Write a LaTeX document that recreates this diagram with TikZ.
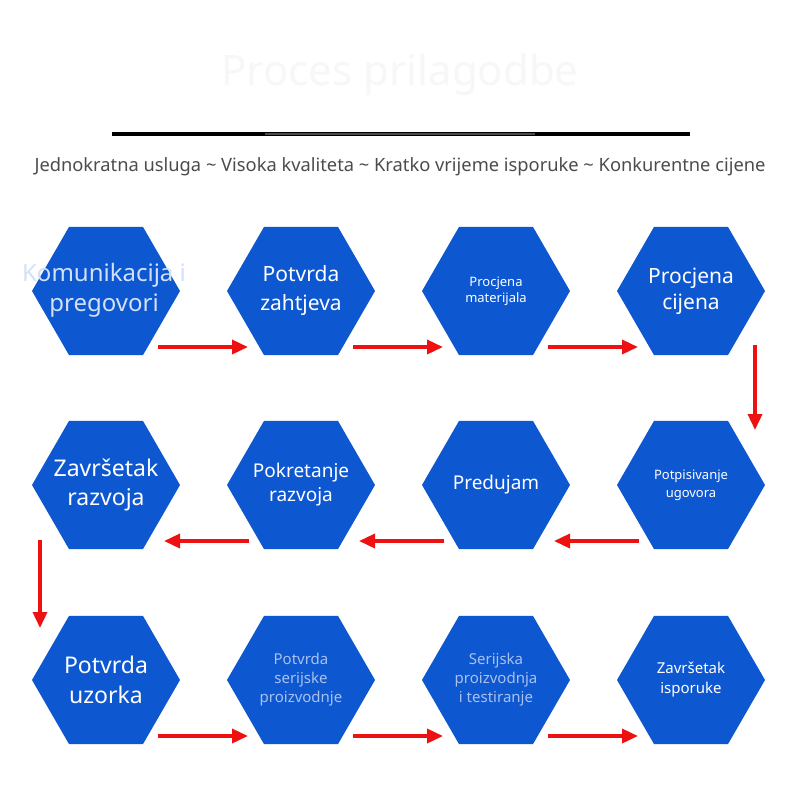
\documentclass[tikz,border=0pt]{standalone}
\usepackage{fontspec}
\setmainfont{Noto Sans}
\usetikzlibrary{shapes.geometric,arrows.meta,calc}
\definecolor{hexblue}{HTML}{0D57D0}
\definecolor{arr}{HTML}{EE1111}
\definecolor{lt}{HTML}{A9C1EE}
\begin{document}
\begin{tikzpicture}[x=1pt,y=-1pt,
  hexa/.style={regular polygon,regular polygon sides=6,minimum size=148pt,inner sep=0pt,fill=hexblue,draw=none},
  lbl/.style={text=white,align=center,font=\fontsize{20}{24}\selectfont},
  slbl/.style={text=white,align=center,font=\fontsize{12}{15}\selectfont},
  flow/.style={draw=arr,line width=3.5pt,-{Triangle[length=16pt,width=14pt]}}]
\useasboundingbox[fill=white] (0,0) rectangle (800,800);
\node[text=black!3,font=\fontsize{42}{46}\selectfont] (title) at (400,75) {Proces prilagodbe};
\draw[line width=4pt] (112,134) coordinate (la) -- (690,134) coordinate (lb);
\draw[line width=2pt,black!70] (265,134) -- (535,134);
\node[text=black!70,font=\fontsize{18.3}{22}\selectfont] (sub) at (400,167) {Jednokratna usluga \~{} Visoka kvaliteta \~{} Kratko vrijeme isporuke \~{} Konkurentne cijene};
\foreach \i/\x/\y in {1/106/291,2/301/291,3/496/291,4/691/291,8/106/485,7/301/485,6/496/485,5/691/485,9/106/680,10/301/680,11/496/680,12/691/680}
  \node[hexa] (n\i) at (\x,\y) {};
\node[text=lt!50,align=center,font=\fontsize{24}{30}\selectfont] (t1) at (104,290) {Komunikacija i\\pregovori};
\node[lbl,font=\fontsize{21}{29}\selectfont] (t2) at (n2) {Potvrda\\zahtjeva};
\node[slbl,font=\fontsize{13}{16}\selectfont] (t3) at (n3) {Procjena\\materijala};
\node[lbl,font=\fontsize{21}{26}\selectfont] (t4) at (n4) {Procjena\\cijena};
\node[slbl,font=\fontsize{13}{18}\selectfont] (t5) at (n5) {Potpisivanje\\ugovora};
\node[lbl,font=\fontsize{19}{22}\selectfont] (t6) at (n6) {Predujam};
\node[lbl,font=\fontsize{19}{24}\selectfont] (t7) at (n7) {Pokretanje\\razvoja};
\node[lbl,font=\fontsize{23}{29}\selectfont] (t8) at (n8) {Završetak\\razvoja};
\node[lbl,font=\fontsize{23}{30}\selectfont] (t9) at (n9) {Potvrda\\uzorka};
\node[slbl,text=lt,font=\fontsize{15}{19}\selectfont] (t10) at (n10) {Potvrda\\serijske\\proizvodnje};
\node[slbl,text=lt,font=\fontsize{15}{19}\selectfont] (t11) at (n11) {Serijska\\proizvodnja\\i testiranje};
\node[slbl,font=\fontsize{15}{20}\selectfont] (t12) at (n12) {Završetak\\isporuke};
\foreach \a/\b in {1/2,2/3,3/4,9/10,10/11,11/12}
  \draw[flow] ($(n\a.center)+(52,56)$) -- ($(n\b.center)+(-53,56)$);
\foreach \a/\b in {5/6,6/7,7/8}
  \draw[flow] ($(n\a.center)+(-52,56)$) -- ($(n\b.center)+(58,56)$);
\draw[flow] ($(n4.center)+(64,54)$) -- ($(n5.center)+(64,-55)$);
\draw[flow] ($(n8.center)+(-66,55)$) -- ($(n9.center)+(-66,-52)$);
\end{tikzpicture}
\end{document}
